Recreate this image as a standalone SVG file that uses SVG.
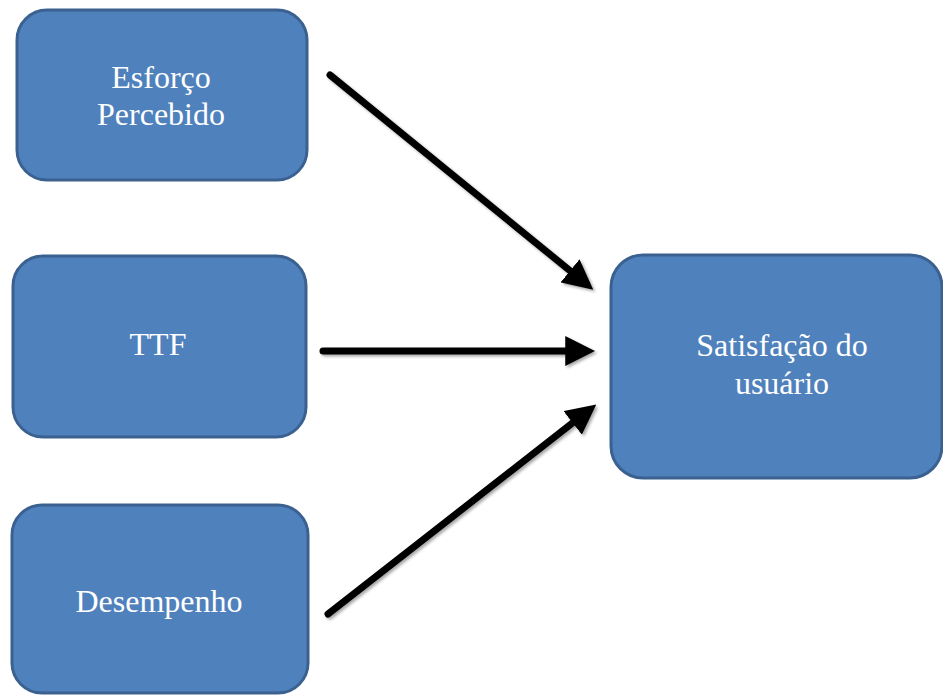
<svg xmlns="http://www.w3.org/2000/svg" width="943" height="695" viewBox="0 0 943 695">
  <style>
    .box { fill: #4f81bd; stroke: #3b6190; stroke-width: 3; }
    .label { font-family: "Liberation Serif", "Times New Roman", serif; font-size: 32px; fill: #ffffff; text-anchor: middle; }
    .link { stroke: #000000; stroke-width: 7; fill: none; stroke-linecap: round; marker-end: url(#head); }
  </style>
  <defs>
    <marker id="head" markerUnits="userSpaceOnUse" markerWidth="30" markerHeight="30" viewBox="0 0 26 26" refX="5" refY="13" orient="auto">
      <path d="M0,0 L26,13 L0,26 z" fill="#000000"/>
    </marker>
    <filter id="shadow" x="-10%" y="-10%" width="120%" height="120%">
      <feGaussianBlur in="SourceAlpha" stdDeviation="1.5"/>
      <feOffset dx="1.5" dy="2" result="off"/>
      <feComponentTransfer><feFuncA type="linear" slope="0.35"/></feComponentTransfer>
      <feMerge><feMergeNode/><feMergeNode in="SourceGraphic"/></feMerge>
    </filter>
  </defs>

  <rect width="943" height="695" fill="#ffffff"/>

  <g id="esforco">
    <rect class="box" x="17" y="10" width="290" height="170" rx="30" ry="30"/>
    <text class="label" x="161" y="88">Esforço</text>
    <text class="label" x="161" y="125">Percebido</text>
  </g>

  <g id="ttf">
    <rect class="box" x="13" y="256" width="293" height="181" rx="30" ry="30"/>
    <text class="label" x="158" y="355">TTF</text>
  </g>

  <g id="desempenho">
    <rect class="box" x="12" y="505" width="296" height="188" rx="30" ry="30"/>
    <text class="label" x="159" y="612">Desempenho</text>
  </g>

  <g id="satisfacao">
    <rect class="box" x="611" y="255" width="331" height="223" rx="32" ry="32"/>
    <text class="label" x="782" y="356">Satisfação do</text>
    <text class="label" x="782" y="394">usuário</text>
  </g>

  <g id="connectors" filter="url(#shadow)">
    <line class="link" x1="330" y1="75" x2="574.5" y2="274.4"/>
    <line class="link" x1="323" y1="351" x2="571" y2="351"/>
    <line class="link" x1="328" y1="614" x2="577.2" y2="419.3"/>
  </g>
</svg>
